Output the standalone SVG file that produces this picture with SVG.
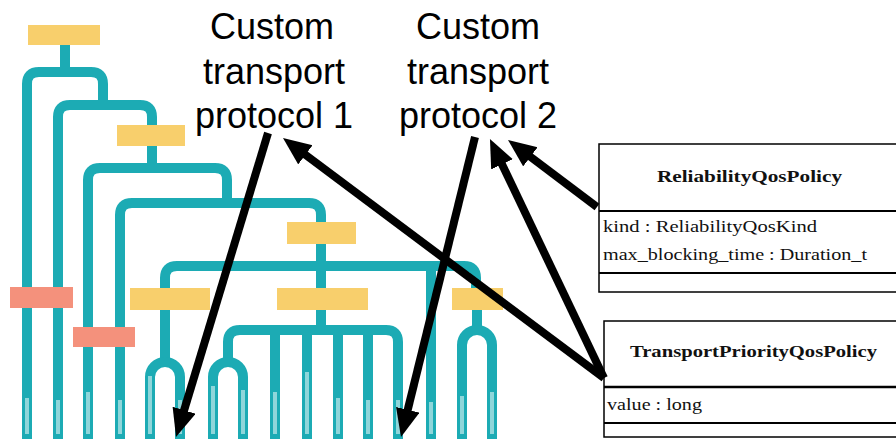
<svg xmlns="http://www.w3.org/2000/svg" width="896" height="439" viewBox="0 0 896 439">
<style>
.br{fill:none;stroke:#1cabb4;stroke-width:10;stroke-linejoin:round}
.yb{fill:#f8cf6c}
.pb{fill:#f4917c}
.lf{fill:#8fd6da}
.big{font-family:"Liberation Sans",Arial,sans-serif;font-size:36px;fill:#000;text-anchor:middle}
.uml{fill:#fff;stroke:#000;stroke-width:1.5}
.ttl{font-family:"Liberation Serif","Times New Roman",serif;font-weight:bold;font-size:17px;fill:#111}
.att{font-family:"Liberation Serif","Times New Roman",serif;font-size:17px;fill:#111}
.ar{stroke:#000;stroke-width:8;fill:none;marker-end:url(#ah)}
</style>
<defs>
<marker id="ah" markerUnits="userSpaceOnUse" markerWidth="30" markerHeight="26" refX="4" refY="12" orient="auto" viewBox="0 0 30 26">
<path d="M0,0 L28,12 L0,24 z" fill="#000"/>
</marker>
</defs>
<rect width="896" height="439" fill="#fff"/>
<g id="tree">
<path class="br" d="M65 45 V72"/>
<path class="br" d="M27 439 V84 Q27 72 39 72 H91 Q103 72 103 84 V105"/>
<path class="br" d="M58 439 V117 Q58 105 70 105 H140 Q152 105 152 117 V126"/>
<path class="br" d="M152 146 V168"/>
<path class="br" d="M88 439 V180 Q88 168 100 168 H215 Q227 168 227 180 V203"/>
<path class="br" d="M120 439 V215 Q120 203 132 203 H309 Q321 203 321 215 V223"/>
<path class="br" d="M321 244 V289"/>
<path class="br" d="M165 289 V278 Q165 266 177 266 H464 Q476 266 476 278 V289"/>
<path class="br" d="M431 266 V439"/>
<path class="br" d="M165 310 V362"/>
<path class="br" d="M150 439 V377 A15 15 0 0 1 180 377 V439"/>
<path class="br" d="M321 310 V330"/>
<path class="br" d="M228 362 V342 Q228 330 240 330 H386 Q398 330 398 342 V439"/>
<path class="br" d="M213 439 V377 A15 15 0 0 1 243 377 V439"/>
<path class="br" d="M275 330 V439 M307 330 V439 M338 330 V439 M368 330 V439"/>
<path class="br" d="M477 310 V330"/>
<path class="br" d="M462 439 V345 A15 15 0 0 1 492 345 V439"/>
<g id="leaves">
<rect class="lf" x="25" y="398" width="4" height="36"/>
<rect class="lf" x="56" y="400" width="4" height="34"/>
<rect class="lf" x="86" y="392" width="4" height="42"/>
<rect class="lf" x="118" y="400" width="4" height="34"/>
<rect class="lf" x="148" y="376" width="4" height="58"/>
<rect class="lf" x="178" y="400" width="4" height="34"/>
<rect class="lf" x="211" y="386" width="4" height="48"/>
<rect class="lf" x="241" y="390" width="4" height="44"/>
<rect class="lf" x="273" y="392" width="4" height="42"/>
<rect class="lf" x="305" y="372" width="4" height="62"/>
<rect class="lf" x="336" y="398" width="4" height="36"/>
<rect class="lf" x="366" y="400" width="4" height="34"/>
<rect class="lf" x="396" y="400" width="4" height="34"/>
<rect class="lf" x="429" y="402" width="4" height="32"/>
<rect class="lf" x="460" y="396" width="4" height="38"/>
<rect class="lf" x="490" y="392" width="4" height="42"/>
</g>
</g>
<g id="n-apiotome"><rect class="yb" x="28" y="25" width="72" height="20"/></g>
<g id="n-gnuwbtome"><rect class="yb" x="117" y="125" width="68" height="21"/></g>
<g id="n-gusave"><rect class="yb" x="287" y="222" width="69" height="22"/></g>
<g id="n-jandusreadment"><rect class="yb" x="130" y="288" width="80" height="22"/></g>
<g id="n-inficone"><rect class="yb" x="277" y="288" width="91" height="22"/></g>
<g id="n-gusiew"><rect class="yb" x="452" y="288" width="51" height="22"/></g>
<g id="n-pink1"><rect class="pb" x="10" y="287" width="63" height="21"/></g>
<g id="n-pink2"><rect class="pb" x="73" y="327" width="62" height="20"/></g>
<g id="label1">
<text class="big" x="272" y="39">Custom</text>
<text class="big" x="274" y="84">transport</text>
<text class="big" x="274" y="128">protocol 1</text>
</g>
<g id="label2">
<text class="big" x="478" y="39">Custom</text>
<text class="big" x="478" y="84">transport</text>
<text class="big" x="478" y="128">protocol 2</text>
</g>
<g id="reliability">
<rect class="uml" x="599" y="144" width="310" height="148"/>
<line x1="599" y1="211" x2="909" y2="211" stroke="#000" stroke-width="2"/>
<line x1="599" y1="273" x2="909" y2="273" stroke="#000" stroke-width="2"/>
<text class="ttl" x="657" y="182" textLength="185" lengthAdjust="spacingAndGlyphs">ReliabilityQosPolicy</text>
<text class="att" x="603" y="232" textLength="214" lengthAdjust="spacingAndGlyphs">kind : ReliabilityQosKind</text>
<text class="att" x="603" y="260" textLength="264" lengthAdjust="spacingAndGlyphs">max_blocking_time : Duration_t</text>
</g>
<g id="transportpriority">
<rect class="uml" x="604" y="321" width="310" height="116"/>
<line x1="604" y1="387" x2="914" y2="387" stroke="#000" stroke-width="2.5"/>
<line x1="604" y1="423" x2="914" y2="423" stroke="#000" stroke-width="2"/>
<text class="ttl" x="630" y="357" textLength="247" lengthAdjust="spacingAndGlyphs">TransportPriorityQosPolicy</text>
<text class="att" x="607" y="410" textLength="95" lengthAdjust="spacingAndGlyphs">value : long</text>
</g>
<g id="connectors">
<line class="ar" x1="268" y1="133" x2="182.95" y2="414.03"/>
<line class="ar" x1="475" y1="137" x2="406.75" y2="413.7"/>
<line class="ar" x1="604" y1="378" x2="302.2" y2="152.4"/>
<line class="ar" x1="604" y1="378" x2="500.3" y2="160.7"/>
<line class="ar" x1="597" y1="207" x2="527.2" y2="154.4"/>
</g>
</svg>
